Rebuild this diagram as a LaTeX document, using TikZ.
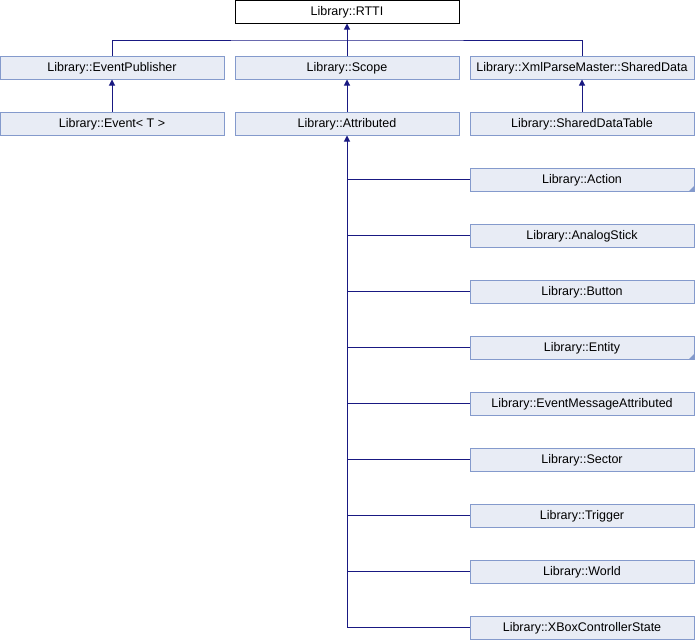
\documentclass[tikz,border=0pt]{standalone}
\usepackage{fontspec}
\setmainfont{Liberation Sans}
\usepackage{tikz}
\usetikzlibrary{arrows.meta}
\definecolor{boxline}{RGB}{132,154,204}
\definecolor{boxfill}{RGB}{232,236,245}
\definecolor{edge}{RGB}{25,25,130}

\begin{document}
\begin{tikzpicture}[x=1pt,y=-1pt,line width=1pt,
    cls/.style={draw=boxline,fill=boxfill,minimum width=224pt,minimum height=23pt,inner sep=0pt,text height=10pt,text depth=1.6pt,font=\fontsize{12.5}{14}\selectfont},
    inh/.style={draw=edge,-{Triangle[length=6pt,width=6pt]}},
    lnk/.style={draw=edge}]
  \useasboundingbox (0,0) rectangle (695,640);
          \node[cls,draw=black,fill=white] (rtti) at (347,11.5) {Library::RTTI};
          \node[cls] (publisher) at (112,67.5) {Library::EventPublisher};
          \node[cls] (scope) at (347,67.5) {Library::Scope};
          \node[cls] (shared) at (582,67.5) {Library::XmlParseMaster::SharedData};
          \node[cls] (event) at (112,123.5) {Library::Event< T >};
          \node[cls] (attributed) at (347,123.5) {Library::Attributed};
          \node[cls] (table) at (582,123.5) {Library::SharedDataTable};
          \coordinate (bus) at (347,40);

          \foreach \name/\txt [count=\i from 0] in {action/Action,stick/AnalogStick,button/Button,entity/Entity,message/EventMessageAttributed,sector/Sector,trigger/Trigger,world/World,xbox/XBoxControllerState}
            \node[cls] (\name) at (582,179.5+56*\i) {Library::\txt};

          \foreach \name in {action,entity}
            \fill[boxline] (\name.south east) -- ++(-6,0) -- ++(6,-6) -- cycle;

          \draw[lnk] (publisher.north) |- (bus) -| (shared.north);
          \draw[inh] (scope.north) -- (rtti.south);
          \draw[inh] (event.north) -- (publisher.south);
          \draw[inh] (attributed.north) -- (scope.south);
          \draw[inh] (table.north) -- (shared.south);
          \draw[inh] (xbox.west) -| (attributed.south);
          \foreach \name in {action,stick,button,entity,message,sector,trigger,world}
            \draw[lnk] (\name.west) -- (\name.west -| attributed.south);
        \end{tikzpicture}
\end{document}
